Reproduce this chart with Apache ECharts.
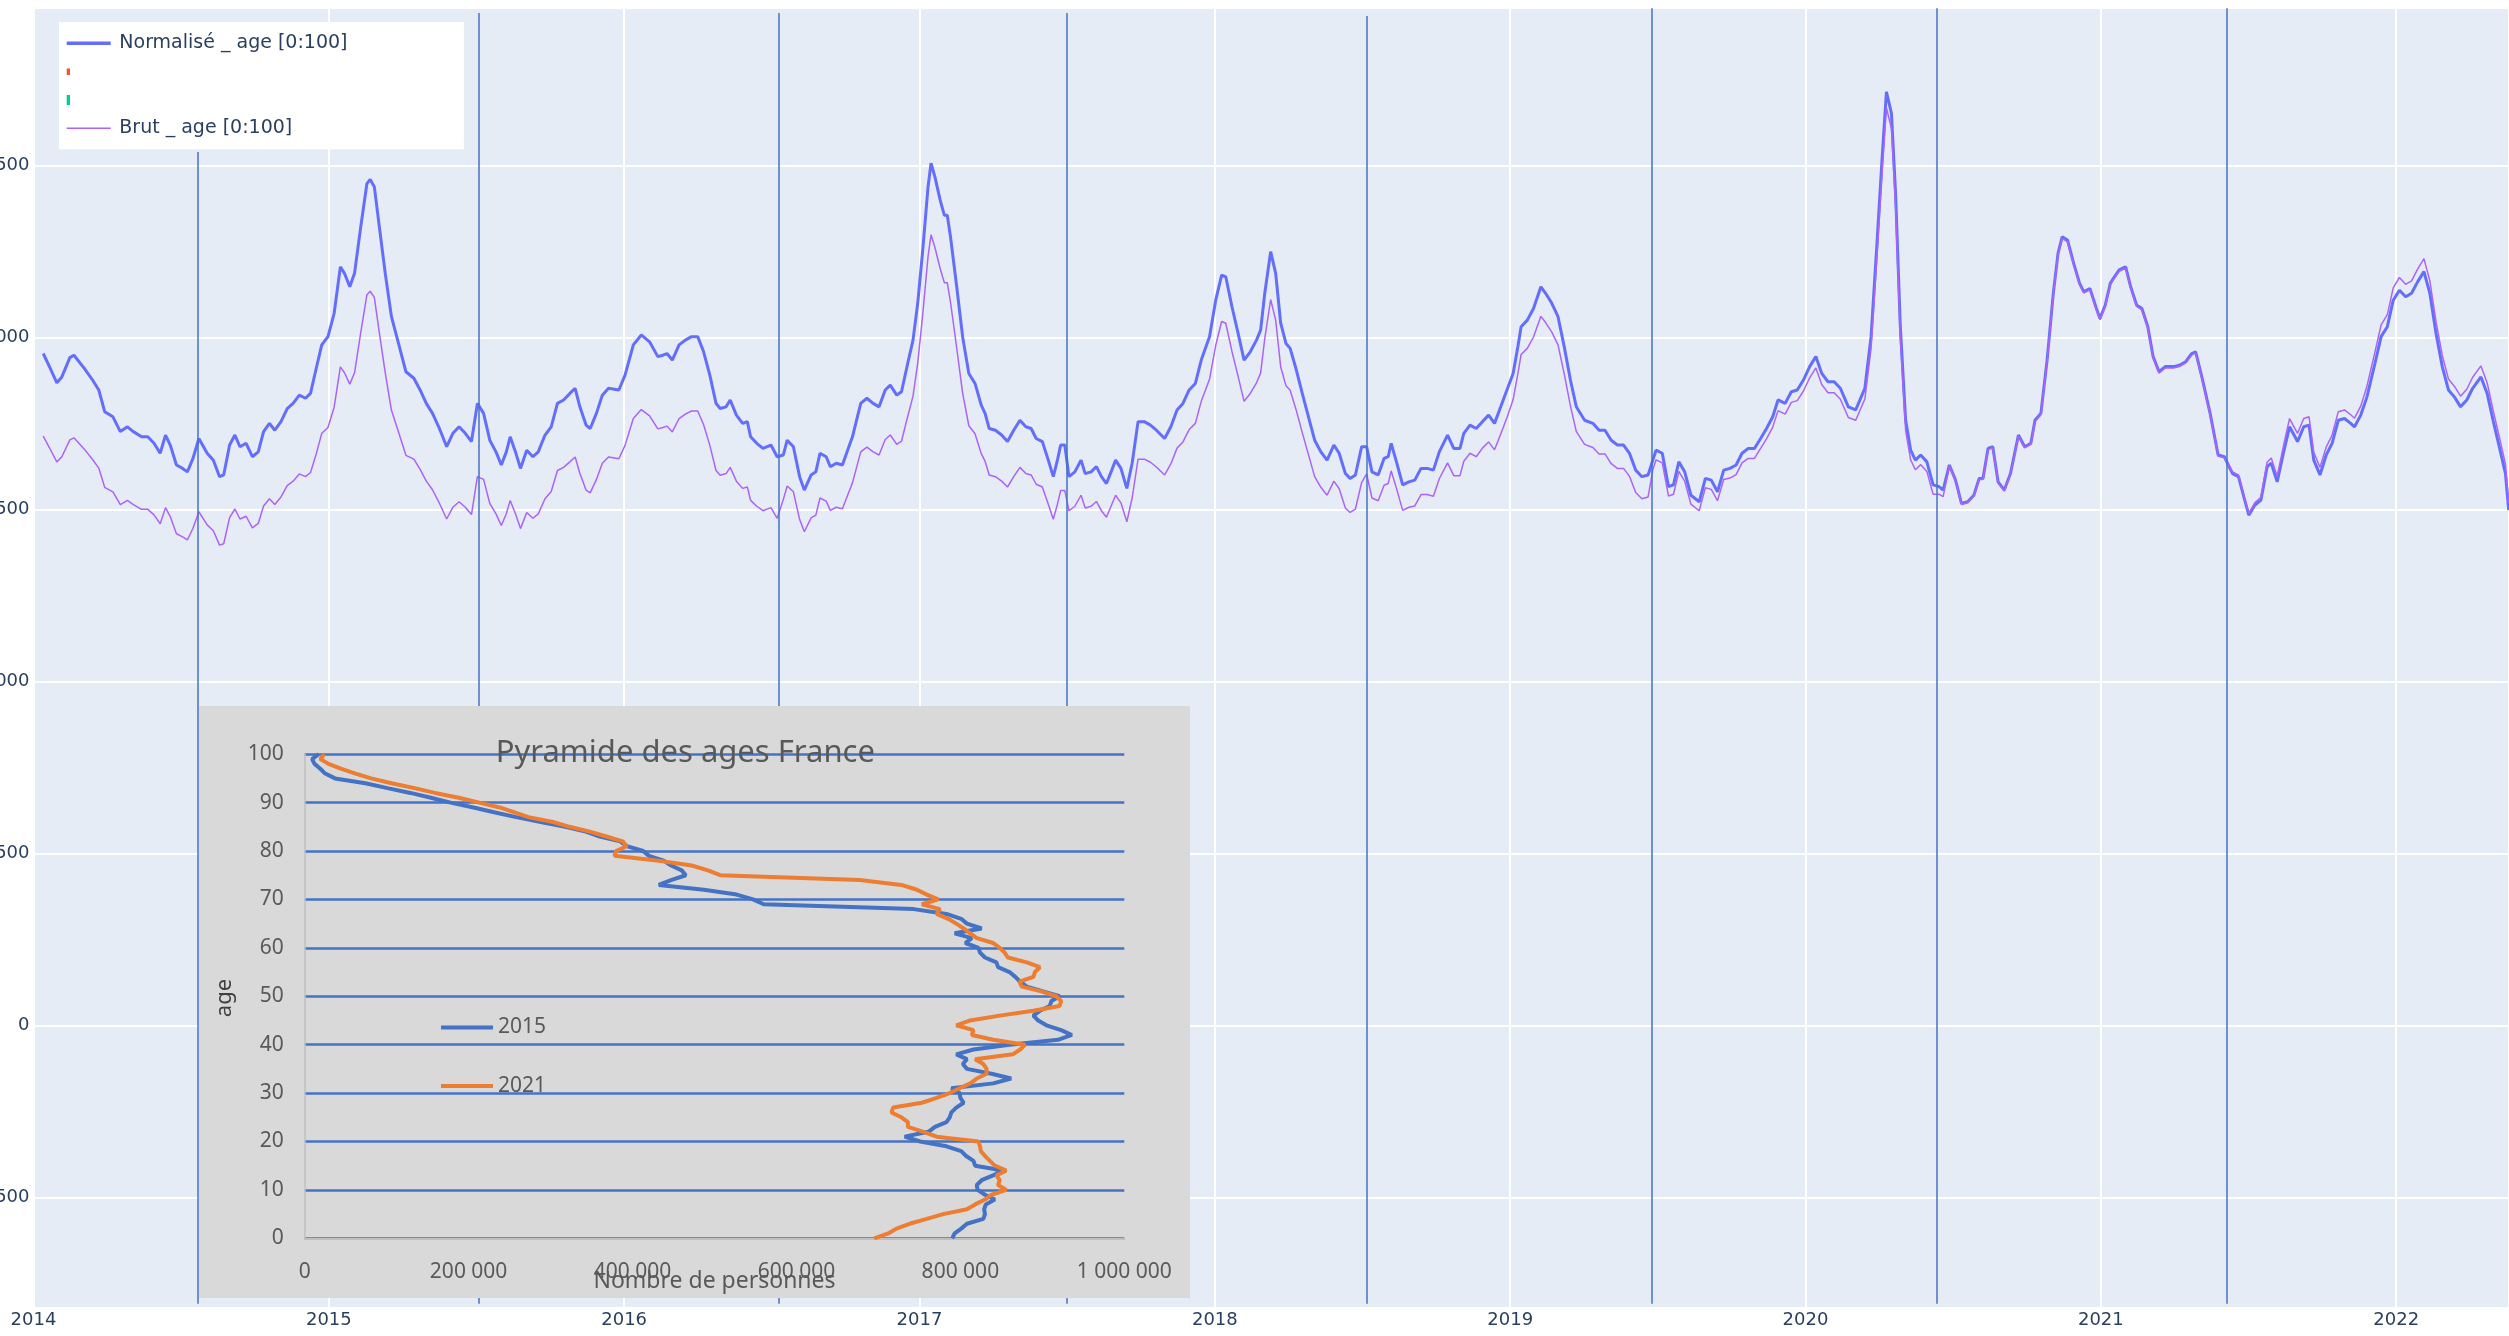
<!DOCTYPE html>
<html><head><meta charset="utf-8">
<script src="https://cdn.jsdelivr.net/npm/echarts@6.0.0/dist/echarts.min.js"></script>
<style>html,body{margin:0;padding:0;background:#fff}#c{width:2509px;height:1336px}</style>
</head><body><div id="c"></div>
<script>
// ---- Main series: [decimal year, value] ----
const normalisePts = [[2014.033,1954],[2014.054,1916],[2014.079,1869],[2014.096,1886],[2014.123,1942],[2014.137,1949],[2014.172,1911],[2014.200,1877],[2014.221,1848],[2014.241,1785],[2014.269,1770],[2014.294,1727],[2014.318,1741],[2014.338,1727],[2014.366,1712],[2014.387,1712],[2014.408,1693],[2014.429,1664],[2014.447,1717],[2014.463,1688],[2014.484,1630],[2014.505,1620],[2014.521,1610],[2014.540,1649],[2014.560,1707],[2014.588,1664],[2014.609,1644],[2014.630,1596],[2014.644,1601],[2014.664,1688],[2014.682,1717],[2014.699,1683],[2014.720,1693],[2014.741,1654],[2014.761,1668],[2014.779,1727],[2014.799,1751],[2014.817,1731],[2014.838,1756],[2014.859,1794],[2014.879,1809],[2014.900,1833],[2014.921,1824],[2014.938,1838],[2014.956,1906],[2014.976,1979],[2014.997,2003],[2015.018,2071],[2015.039,2206],[2015.053,2187],[2015.071,2148],[2015.087,2187],[2015.108,2322],[2015.129,2448],[2015.140,2460],[2015.154,2439],[2015.171,2322],[2015.191,2187],[2015.212,2061],[2015.233,1993],[2015.261,1901],[2015.288,1882],[2015.309,1848],[2015.330,1809],[2015.351,1780],[2015.372,1741],[2015.399,1683],[2015.420,1722],[2015.441,1741],[2015.462,1722],[2015.483,1698],[2015.503,1809],[2015.524,1780],[2015.545,1702],[2015.566,1668],[2015.584,1630],[2015.601,1668],[2015.614,1712],[2015.632,1668],[2015.649,1620],[2015.670,1673],[2015.691,1654],[2015.709,1668],[2015.732,1717],[2015.753,1741],[2015.774,1809],[2015.795,1819],[2015.816,1838],[2015.834,1853],[2015.850,1799],[2015.871,1746],[2015.885,1736],[2015.906,1780],[2015.926,1833],[2015.947,1853],[2015.982,1848],[2016.003,1891],[2016.031,1979],[2016.058,2008],[2016.086,1988],[2016.114,1945],[2016.131,1949],[2016.145,1954],[2016.163,1935],[2016.186,1979],[2016.207,1993],[2016.228,2003],[2016.249,2003],[2016.269,1959],[2016.290,1891],[2016.311,1809],[2016.325,1794],[2016.345,1799],[2016.359,1819],[2016.380,1775],[2016.401,1751],[2016.417,1756],[2016.428,1712],[2016.449,1693],[2016.470,1678],[2016.497,1688],[2016.518,1654],[2016.539,1659],[2016.552,1702],[2016.573,1683],[2016.594,1596],[2016.610,1557],[2016.633,1601],[2016.649,1610],[2016.663,1664],[2016.684,1654],[2016.698,1625],[2016.718,1635],[2016.739,1630],[2016.753,1664],[2016.773,1712],[2016.801,1809],[2016.822,1824],[2016.843,1809],[2016.863,1799],[2016.884,1848],[2016.901,1862],[2016.923,1833],[2016.939,1843],[2016.960,1925],[2016.978,1993],[2016.994,2100],[2017.011,2255],[2017.029,2439],[2017.039,2507],[2017.052,2468],[2017.070,2400],[2017.084,2356],[2017.094,2356],[2017.105,2293],[2017.126,2148],[2017.146,2003],[2017.167,1896],[2017.188,1867],[2017.209,1804],[2017.222,1780],[2017.236,1736],[2017.257,1731],[2017.278,1717],[2017.298,1698],[2017.319,1731],[2017.340,1760],[2017.360,1741],[2017.378,1736],[2017.395,1707],[2017.416,1698],[2017.436,1644],[2017.453,1596],[2017.467,1644],[2017.478,1688],[2017.492,1688],[2017.506,1596],[2017.526,1610],[2017.547,1644],[2017.561,1605],[2017.581,1610],[2017.599,1625],[2017.616,1596],[2017.633,1576],[2017.651,1615],[2017.664,1644],[2017.682,1620],[2017.702,1562],[2017.720,1635],[2017.740,1756],[2017.761,1756],[2017.782,1746],[2017.802,1731],[2017.830,1707],[2017.851,1741],[2017.872,1790],[2017.892,1809],[2017.913,1848],[2017.934,1867],[2017.954,1935],[2017.982,2003],[2018.003,2109],[2018.023,2182],[2018.037,2177],[2018.058,2090],[2018.079,2012],[2018.099,1935],[2018.120,1959],[2018.141,1993],[2018.155,2022],[2018.169,2129],[2018.189,2250],[2018.206,2187],[2018.223,2042],[2018.241,1983],[2018.255,1969],[2018.276,1906],[2018.296,1838],[2018.317,1770],[2018.338,1702],[2018.359,1668],[2018.380,1644],[2018.403,1688],[2018.421,1664],[2018.442,1605],[2018.458,1591],[2018.476,1601],[2018.497,1683],[2018.514,1683],[2018.532,1610],[2018.553,1601],[2018.573,1649],[2018.587,1654],[2018.597,1693],[2018.615,1639],[2018.636,1572],[2018.657,1581],[2018.677,1586],[2018.698,1620],[2018.719,1620],[2018.740,1615],[2018.760,1668],[2018.788,1717],[2018.809,1678],[2018.830,1678],[2018.843,1722],[2018.864,1746],[2018.885,1736],[2018.906,1756],[2018.927,1775],[2018.947,1751],[2018.968,1799],[2018.989,1848],[2019.010,1896],[2019.026,1974],[2019.037,2032],[2019.058,2051],[2019.079,2085],[2019.104,2148],[2019.120,2129],[2019.141,2100],[2019.162,2061],[2019.183,1974],[2019.204,1877],[2019.224,1799],[2019.252,1760],[2019.280,1751],[2019.301,1731],[2019.321,1731],[2019.342,1702],[2019.363,1688],[2019.384,1688],[2019.404,1664],[2019.425,1615],[2019.446,1596],[2019.467,1601],[2019.483,1644],[2019.494,1673],[2019.515,1664],[2019.536,1567],[2019.553,1572],[2019.571,1639],[2019.591,1610],[2019.612,1542],[2019.640,1523],[2019.661,1591],[2019.681,1586],[2019.702,1552],[2019.723,1615],[2019.744,1620],[2019.765,1630],[2019.785,1664],[2019.806,1678],[2019.827,1678],[2019.848,1707],[2019.868,1736],[2019.889,1770],[2019.907,1819],[2019.931,1809],[2019.952,1843],[2019.972,1848],[2019.993,1877],[2020.014,1916],[2020.035,1945],[2020.055,1896],[2020.076,1872],[2020.097,1872],[2020.118,1853],[2020.145,1799],[2020.170,1790],[2020.201,1853],[2020.222,2003],[2020.242,2274],[2020.259,2516],[2020.274,2715],[2020.291,2652],[2020.305,2419],[2020.321,2032],[2020.339,1760],[2020.356,1673],[2020.372,1644],[2020.390,1659],[2020.411,1639],[2020.432,1572],[2020.452,1567],[2020.466,1557],[2020.487,1630],[2020.508,1586],[2020.528,1518],[2020.549,1523],[2020.570,1542],[2020.588,1591],[2020.601,1591],[2020.618,1678],[2020.634,1683],[2020.652,1581],[2020.673,1557],[2020.694,1605],[2020.721,1717],[2020.742,1683],[2020.763,1693],[2020.777,1760],[2020.797,1780],[2020.818,1935],[2020.839,2129],[2020.855,2245],[2020.869,2293],[2020.887,2284],[2020.908,2216],[2020.928,2158],[2020.942,2134],[2020.963,2143],[2020.983,2090],[2020.997,2056],[2021.015,2095],[2021.032,2158],[2021.046,2177],[2021.062,2197],[2021.084,2206],[2021.101,2148],[2021.121,2095],[2021.139,2085],[2021.159,2032],[2021.177,1945],[2021.197,1901],[2021.218,1916],[2021.246,1916],[2021.266,1920],[2021.287,1930],[2021.308,1954],[2021.321,1959],[2021.342,1886],[2021.370,1780],[2021.397,1659],[2021.418,1654],[2021.446,1605],[2021.466,1596],[2021.484,1538],[2021.501,1484],[2021.521,1513],[2021.542,1528],[2021.563,1625],[2021.577,1635],[2021.597,1581],[2021.618,1664],[2021.639,1741],[2021.666,1698],[2021.687,1741],[2021.705,1746],[2021.721,1644],[2021.742,1601],[2021.763,1659],[2021.783,1693],[2021.804,1760],[2021.825,1765],[2021.846,1751],[2021.859,1741],[2021.880,1775],[2021.901,1828],[2021.928,1925],[2021.949,2003],[2021.970,2032],[2021.990,2109],[2022.011,2138],[2022.032,2119],[2022.052,2129],[2022.073,2163],[2022.094,2192],[2022.114,2129],[2022.135,2012],[2022.156,1916],[2022.177,1848],[2022.197,1828],[2022.218,1799],[2022.239,1819],[2022.259,1853],[2022.287,1886],[2022.308,1838],[2022.328,1760],[2022.349,1683],[2022.370,1605],[2022.381,1499]];

const brutPts = [[2014.033,1714],[2014.054,1680],[2014.079,1639],[2014.096,1654],[2014.123,1703],[2014.137,1709],[2014.172,1676],[2014.200,1646],[2014.221,1621],[2014.241,1565],[2014.269,1552],[2014.294,1515],[2014.318,1527],[2014.338,1515],[2014.366,1501],[2014.387,1501],[2014.408,1485],[2014.429,1459],[2014.447,1506],[2014.463,1480],[2014.484,1430],[2014.505,1421],[2014.521,1412],[2014.540,1446],[2014.560,1494],[2014.588,1456],[2014.609,1439],[2014.630,1397],[2014.644,1401],[2014.664,1477],[2014.682,1502],[2014.699,1473],[2014.720,1481],[2014.741,1447],[2014.761,1460],[2014.779,1511],[2014.799,1532],[2014.817,1515],[2014.838,1537],[2014.859,1570],[2014.879,1583],[2014.900,1604],[2014.921,1596],[2014.938,1608],[2014.956,1658],[2014.976,1722],[2014.997,1739],[2015.018,1798],[2015.039,1915],[2015.053,1898],[2015.071,1865],[2015.087,1898],[2015.108,2015],[2015.129,2125],[2015.140,2135],[2015.154,2117],[2015.171,2015],[2015.191,1898],[2015.212,1789],[2015.233,1734],[2015.261,1658],[2015.288,1647],[2015.309,1617],[2015.330,1583],[2015.351,1558],[2015.372,1523],[2015.399,1473],[2015.420,1507],[2015.441,1523],[2015.462,1507],[2015.483,1486],[2015.503,1596],[2015.524,1588],[2015.545,1518],[2015.566,1488],[2015.584,1454],[2015.601,1488],[2015.614,1527],[2015.632,1488],[2015.649,1445],[2015.670,1492],[2015.691,1475],[2015.709,1488],[2015.732,1532],[2015.753,1553],[2015.774,1614],[2015.795,1623],[2015.816,1639],[2015.834,1653],[2015.850,1605],[2015.871,1557],[2015.885,1549],[2015.906,1588],[2015.926,1635],[2015.947,1653],[2015.982,1648],[2016.003,1687],[2016.031,1765],[2016.058,1791],[2016.086,1773],[2016.114,1735],[2016.131,1739],[2016.145,1743],[2016.163,1726],[2016.186,1765],[2016.207,1778],[2016.228,1787],[2016.249,1787],[2016.269,1747],[2016.290,1687],[2016.311,1614],[2016.325,1600],[2016.345,1605],[2016.359,1623],[2016.380,1583],[2016.401,1562],[2016.417,1566],[2016.428,1527],[2016.449,1510],[2016.470,1497],[2016.497,1506],[2016.518,1475],[2016.539,1530],[2016.552,1569],[2016.573,1552],[2016.594,1472],[2016.610,1436],[2016.633,1476],[2016.649,1484],[2016.663,1534],[2016.684,1525],[2016.698,1498],[2016.718,1507],[2016.739,1503],[2016.753,1534],[2016.773,1578],[2016.801,1668],[2016.822,1682],[2016.843,1668],[2016.863,1659],[2016.884,1704],[2016.901,1717],[2016.923,1690],[2016.939,1699],[2016.960,1771],[2016.978,1830],[2016.994,1926],[2017.011,2068],[2017.029,2237],[2017.039,2299],[2017.052,2263],[2017.070,2201],[2017.084,2160],[2017.094,2160],[2017.105,2103],[2017.126,1970],[2017.146,1839],[2017.167,1744],[2017.188,1721],[2017.209,1663],[2017.222,1641],[2017.236,1601],[2017.257,1596],[2017.278,1583],[2017.298,1566],[2017.319,1596],[2017.340,1623],[2017.360,1605],[2017.378,1601],[2017.395,1574],[2017.416,1566],[2017.436,1516],[2017.453,1472],[2017.467,1516],[2017.478,1556],[2017.492,1556],[2017.506,1497],[2017.526,1510],[2017.547,1542],[2017.561,1505],[2017.581,1510],[2017.599,1524],[2017.616,1497],[2017.633,1478],[2017.651,1515],[2017.664,1542],[2017.682,1520],[2017.702,1465],[2017.720,1534],[2017.740,1647],[2017.761,1647],[2017.782,1638],[2017.802,1624],[2017.830,1601],[2017.851,1633],[2017.872,1679],[2017.892,1697],[2017.913,1733],[2017.934,1751],[2017.954,1815],[2017.982,1879],[2018.003,1978],[2018.023,2047],[2018.037,2042],[2018.058,1960],[2018.079,1887],[2018.099,1815],[2018.120,1838],[2018.141,1869],[2018.155,1897],[2018.169,1997],[2018.189,2111],[2018.206,2051],[2018.223,1915],[2018.241,1860],[2018.255,1847],[2018.276,1788],[2018.296,1724],[2018.317,1660],[2018.338,1596],[2018.359,1565],[2018.380,1542],[2018.403,1583],[2018.421,1561],[2018.442,1505],[2018.458,1492],[2018.476,1502],[2018.497,1579],[2018.514,1604],[2018.532,1534],[2018.553,1526],[2018.573,1571],[2018.587,1576],[2018.597,1613],[2018.615,1562],[2018.636,1498],[2018.657,1507],[2018.677,1511],[2018.698,1544],[2018.719,1544],[2018.740,1539],[2018.760,1590],[2018.788,1636],[2018.809,1599],[2018.830,1599],[2018.843,1641],[2018.864,1664],[2018.885,1654],[2018.906,1679],[2018.927,1697],[2018.947,1674],[2018.968,1720],[2018.989,1767],[2019.010,1820],[2019.026,1895],[2019.037,1951],[2019.058,1969],[2019.079,2002],[2019.104,2062],[2019.120,2044],[2019.141,2016],[2019.162,1979],[2019.183,1895],[2019.204,1802],[2019.224,1727],[2019.252,1690],[2019.280,1681],[2019.301,1662],[2019.321,1662],[2019.342,1634],[2019.363,1620],[2019.384,1620],[2019.404,1597],[2019.425,1550],[2019.446,1532],[2019.467,1537],[2019.483,1616],[2019.494,1645],[2019.515,1636],[2019.536,1540],[2019.553,1545],[2019.571,1611],[2019.591,1583],[2019.612,1516],[2019.640,1497],[2019.661,1564],[2019.681,1559],[2019.702,1526],[2019.723,1588],[2019.744,1592],[2019.765,1602],[2019.785,1636],[2019.806,1649],[2019.827,1649],[2019.848,1678],[2019.868,1706],[2019.889,1740],[2019.907,1788],[2019.931,1778],[2019.952,1812],[2019.972,1817],[2019.993,1845],[2020.014,1883],[2020.035,1912],[2020.055,1864],[2020.076,1840],[2020.097,1840],[2020.118,1821],[2020.145,1768],[2020.170,1760],[2020.201,1822],[2020.222,1969],[2020.242,2235],[2020.259,2473],[2020.274,2669],[2020.291,2607],[2020.305,2378],[2020.321,1997],[2020.339,1730],[2020.356,1645],[2020.372,1616],[2020.390,1631],[2020.411,1611],[2020.432,1545],[2020.452,1545],[2020.466,1538],[2020.487,1627],[2020.508,1583],[2020.528,1515],[2020.549,1520],[2020.570,1539],[2020.588,1588],[2020.601,1588],[2020.618,1675],[2020.634,1680],[2020.652,1578],[2020.673,1554],[2020.694,1602],[2020.721,1714],[2020.742,1680],[2020.763,1690],[2020.777,1756],[2020.797,1776],[2020.818,1931],[2020.839,2125],[2020.855,2241],[2020.869,2288],[2020.887,2279],[2020.908,2212],[2020.928,2154],[2020.942,2130],[2020.963,2139],[2020.983,2086],[2020.997,2052],[2021.015,2091],[2021.032,2154],[2021.046,2173],[2021.062,2193],[2021.084,2202],[2021.101,2144],[2021.121,2091],[2021.139,2081],[2021.159,2028],[2021.177,1941],[2021.197,1897],[2021.218,1912],[2021.246,1912],[2021.266,1916],[2021.287,1926],[2021.308,1950],[2021.321,1955],[2021.342,1882],[2021.370,1776],[2021.397,1656],[2021.418,1651],[2021.446,1610],[2021.466,1601],[2021.484,1543],[2021.501,1489],[2021.521,1520],[2021.542,1536],[2021.563,1638],[2021.577,1650],[2021.597,1597],[2021.618,1684],[2021.639,1765],[2021.666,1722],[2021.687,1765],[2021.705,1770],[2021.721,1667],[2021.742,1623],[2021.763,1682],[2021.783,1717],[2021.804,1785],[2021.825,1790],[2021.846,1776],[2021.859,1766],[2021.880,1801],[2021.901,1859],[2021.928,1958],[2021.949,2037],[2021.970,2067],[2021.990,2145],[2022.011,2175],[2022.032,2155],[2022.052,2165],[2022.073,2200],[2022.094,2230],[2022.114,2165],[2022.135,2046],[2022.156,1949],[2022.177,1880],[2022.197,1859],[2022.218,1830],[2022.239,1850],[2022.259,1885],[2022.287,1918],[2022.308,1869],[2022.328,1790],[2022.349,1712],[2022.370,1632],[2022.381,1520]];

// ---- Vertical markers (decimal years) and their extents ----
const markerYears = [2014.557, 2015.509, 2016.523, 2017.497, 2018.514, 2019.478, 2020.444, 2021.425];
const markerTops = [2540, 2944, 2944, 2944, 2935, 2958, 2958, 2958];
const markerBottom = -808;

// ---- Inset: population pyramid ----
const ages = [0,1,2,3,4,5,6,7,8,9,10,11,12,13,14,15,16,17,18,19,20,21,22,23,24,25,26,27,28,29,30,31,32,33,34,35,36,37,38,39,40,41,42,43,44,45,46,47,48,49,50,51,52,53,54,55,56,57,58,59,60,61,62,63,64,65,66,67,68,69,70,71,72,73,74,75,76,77,78,79,80,81,82,83,84,85,86,87,88,89,90,91,92,93,94,95,96,97,98,99,100];
const pop2015 = [790000,793000,801000,808000,828000,830000,829000,831000,842000,830000,821000,820000,826000,840000,852000,818000,816000,807000,801000,783000,751000,732000,761000,769000,783000,787000,789000,795000,804000,800000,799000,789000,840000,862000,838000,808000,803000,808000,795000,816000,860000,919000,936000,923000,905000,895000,889000,897000,909000,911000,921000,901000,881000,873000,867000,860000,846000,844000,830000,824000,822000,806000,814000,793000,826000,808000,801000,783000,743000,560000,547000,527000,487000,432000,447000,465000,460000,447000,438000,420000,413000,393000,385000,360000,343000,318000,288000,258000,231000,206000,178000,154000,129000,101000,74000,37000,25000,19000,12000,9000,17000];
const pop2021 = [695000,712000,722000,738000,759000,779000,808000,818000,830000,838000,856000,846000,848000,844000,856000,842000,836000,830000,825000,824000,822000,771000,755000,736000,736000,728000,716000,718000,753000,771000,787000,799000,812000,820000,832000,832000,828000,818000,864000,873000,879000,840000,814000,816000,795000,812000,848000,889000,921000,923000,917000,899000,875000,872000,889000,891000,897000,881000,858000,854000,848000,840000,820000,812000,804000,795000,785000,771000,775000,753000,773000,759000,747000,728000,677000,507000,492000,472000,432000,378000,380000,393000,388000,368000,348000,323000,303000,273000,256000,238000,213000,188000,159000,134000,106000,81000,62000,44000,29000,19000,24000];

const chart = echarts.init(document.getElementById('c'), null, {renderer: 'canvas'});
const spaced = v => String(Math.round(v)).replace(/\B(?=(\d{3})+(?!\d))/g, ' ');

const option = {
  animation: false,
  backgroundColor: '#ffffff',
  textStyle: {fontFamily: 'DejaVu Sans'},
  grid: [
    {left: 33.5, right: 0, top: 8, bottom: 28.7, show: true, backgroundColor: '#E5ECF6', borderWidth: 0, containLabel: false, outerBoundsMode: 'none'},
    {left: 304.7, right: 1384.7, top: 754.2, bottom: 97.7, show: false, containLabel: false, outerBoundsMode: 'none'}
  ],
  xAxis: [
    {type: 'value', gridIndex: 0, min: 2014, max: 2022.382, interval: 1,
     axisLine: {show: false}, axisTick: {show: false},
     splitLine: {show: true, lineStyle: {color: '#ffffff', width: 2}},
     axisLabel: {color: '#2a3f5f', fontSize: 18, fontFamily: 'DejaVu Sans', margin: 4, showMinLabel: true, showMaxLabel: false, formatter: v => String(v)}},
    {type: 'value', gridIndex: 1, min: 0, max: 1000000, interval: 200000, z: 12,
     axisLine: {show: true, lineStyle: {color: '#BFBFBF', width: 2}}, axisTick: {show: false},
     splitLine: {show: false},
     axisLabel: {color: '#595959', fontSize: 21, fontFamily: 'Noto Sans', margin: 23, formatter: spaced}}
  ],
  yAxis: [
    {type: 'value', gridIndex: 0, min: -818.6, max: 2958.4, splitNumber: 7,
     axisLine: {show: false}, axisTick: {show: false},
     splitLine: {show: true, lineStyle: {color: '#ffffff', width: 2}},
     axisLabel: {color: '#2a3f5f', fontSize: 18, fontFamily: 'DejaVu Sans', margin: 4, showMinLabel: false, showMaxLabel: false, formatter: v => String(v)}},
    {type: 'value', gridIndex: 1, min: 0, max: 100, interval: 10, z: 11,
     axisLine: {show: true, lineStyle: {color: '#BFBFBF', width: 1.5}}, axisTick: {show: false},
     splitLine: {show: true, lineStyle: {color: '#4472C4', width: 2.5}},
     axisLabel: {color: '#595959', fontSize: 21, fontFamily: 'Noto Sans', margin: 21}}
  ],
  legend: [
    {orient: 'vertical', left: 59, top: 22, padding: [11.8, 116.4, 11.6, 7.7], backgroundColor: '#ffffff',
     itemWidth: 47.6, itemHeight: 12, itemGap: 9.3, selectedMode: false, z: 6,
     textStyle: {color: '#2a3f5f', fontSize: 19, fontFamily: 'DejaVu Sans'},
     data: [
       {name: 'Normalisé _ age [0:100]', icon: 'path://M0,0L0.01,0M47.6,12L47.59,12M0,4.2L44,4.2L44,7.8L0,7.8Z', itemStyle: {borderWidth: 0}},
       {name: ' ', icon: 'path://M0,0L0.01,0M47.6,12L47.59,12M0,3L3.3,3L3.3,9.3L0,9.3Z', itemStyle: {borderWidth: 0}},
       {name: '  ', icon: 'path://M0,0L0.01,0M47.6,12L47.59,12M0,1L3.3,1L3.3,11L0,11Z', itemStyle: {borderWidth: 0}},
       {name: 'Brut _ age [0:100]', icon: 'path://M0,0L0.01,0M47.6,12L47.59,12M0,5.2L44,5.2L44,6.8L0,6.8Z', itemStyle: {borderWidth: 0}}
     ]},
    {orient: 'vertical', left: 441, top: 1017, padding: 0, itemWidth: 52, itemHeight: 14, itemGap: 37.5,
     selectedMode: false, z: 13,
     textStyle: {color: '#595959', fontSize: 21, fontFamily: 'Noto Sans'},
     data: [
       {name: '2015', icon: 'path://M0,0L0.01,0M52,14L51.99,14M0,5L52,5L52,9L0,9Z', itemStyle: {borderWidth: 0}},
       {name: '2021', icon: 'path://M0,0L0.01,0M52,14L51.99,14M0,5L52,5L52,9L0,9Z', itemStyle: {borderWidth: 0}}
     ]}
  ],
  graphic: [
    {type: 'rect', z: 10, silent: true, shape: {x: 199, y: 706, width: 991, height: 592}, style: {fill: '#D9D9D9'}},
    {type: 'text', z: 14, silent: true, x: 685.3, y: 753,
     style: {text: 'Pyramide des ages France', fill: '#595959', fontSize: 31, fontFamily: 'Noto Sans', align: 'center', verticalAlign: 'middle', textAlign: 'center', textVerticalAlign: 'middle'}},
    {type: 'text', z: 14, silent: true, x: 714.5, y: 1281,
     style: {text: 'Nombre de personnes', fill: '#595959', fontSize: 23, fontFamily: 'Noto Sans', align: 'center', verticalAlign: 'middle', textAlign: 'center', textVerticalAlign: 'middle'}},
    {type: 'text', z: 14, silent: true, x: 225, y: 998, rotation: Math.PI / 2,
     style: {text: 'age', fill: '#404040', fontSize: 22, fontFamily: 'Noto Sans', align: 'center', verticalAlign: 'middle', textAlign: 'center', textVerticalAlign: 'middle'}}
  ],
  series: [
    {name: 'Normalisé _ age [0:100]', type: 'line', xAxisIndex: 0, yAxisIndex: 0, data: normalisePts,
     symbol: 'none', showSymbol: false, z: 2, lineStyle: {color: '#636EFA', width: 3}, itemStyle: {color: '#636EFA'}},
    {name: ' ', type: 'line', xAxisIndex: 0, yAxisIndex: 0, data: [], symbol: 'none', lineStyle: {color: '#EF553B'}, itemStyle: {color: '#EF553B'}},
    {name: '  ', type: 'line', xAxisIndex: 0, yAxisIndex: 0, data: [], symbol: 'none', lineStyle: {color: '#00CC96'}, itemStyle: {color: '#00CC96'}},
    {name: 'Brut _ age [0:100]', type: 'line', xAxisIndex: 0, yAxisIndex: 0, data: brutPts,
     symbol: 'none', showSymbol: false, z: 3, lineStyle: {color: '#AB63FA', width: 1.5}, itemStyle: {color: '#AB63FA'},
     markLine: {silent: true, animation: false, symbol: ['none', 'none'], label: {show: false},
       lineStyle: {color: '#4472C4', width: 1.5, type: 'solid'}, emphasis: {disabled: true},
       data: markerYears.map((yr, i) => [{coord: [yr, markerTops[i]]}, {coord: [yr, markerBottom]}])}},
    {name: '2015', type: 'line', xAxisIndex: 1, yAxisIndex: 1, z: 13, symbol: 'none', showSymbol: false,
     data: pop2015.map((v, i) => [v, ages[i]]), lineStyle: {color: '#4472C4', width: 4}, itemStyle: {color: '#4472C4'}},
    {name: '2021', type: 'line', xAxisIndex: 1, yAxisIndex: 1, z: 13, symbol: 'none', showSymbol: false,
     data: pop2021.map((v, i) => [v, ages[i]]), lineStyle: {color: '#ED7D31', width: 4}, itemStyle: {color: '#ED7D31'}}
  ]
};
chart.setOption(option);
</script>
</body></html>
